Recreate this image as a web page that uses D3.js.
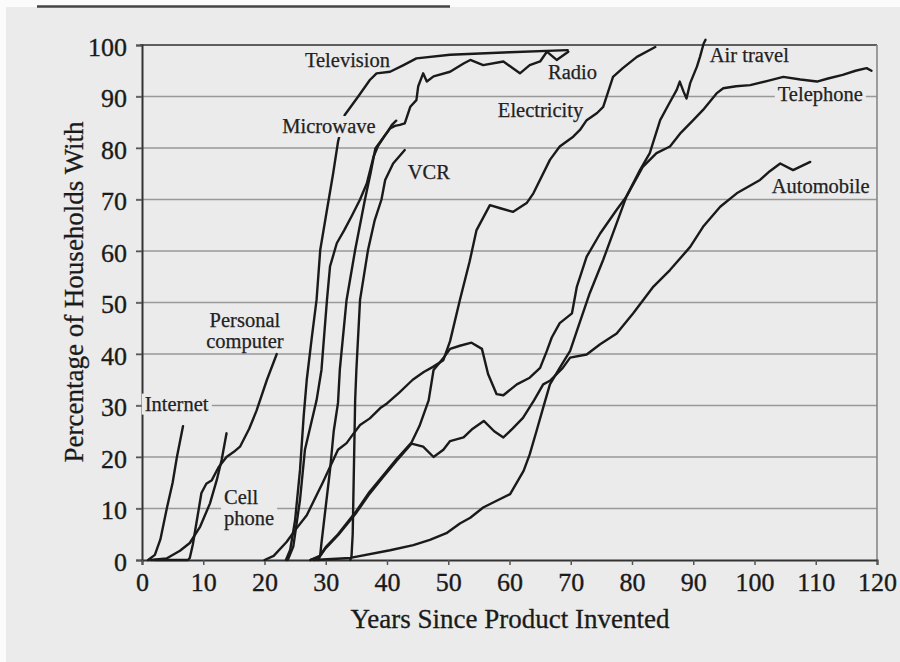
<!DOCTYPE html>
<html><head><meta charset="utf-8">
<script src="https://cdn.jsdelivr.net/npm/d3@7"></script>
<style>body{margin:0;background:#fff}svg{display:block}</style>
</head><body>
<svg id="c" width="900" height="662"></svg>
<script>
// ---------- data ----------
const xTicks = [0,10,20,30,40,50,60,70,80,90,100,110,120];
const yTicks = [0,10,20,30,40,50,60,70,80,90,100];
const xTitle = "Years Since Product Invented";
const yTitle = "Percentage of Households With";

// [years since invented, percent of households]
const internet = [[1,0],[2.1,1],[3,4],[4.1,10.3],[5,15],[5.7,20],[6.7,26]];
const cellPhone = [[1.5,0],[4,0.3],[6.2,1.8],[7.8,3.3],[9.5,6.5],[11.1,11],[12.2,15.5],[13,19.4],[13.8,24.6]];
const personalComputer = [[2,0],[7.5,0],[7.8,0.4],[8.3,3],[9,8],[9.7,13],[10.5,14.8],[11.4,15.5],[12.5,18],[13.8,20],[15,21],[16,22],[17.5,25.5],[18.7,29],[20.4,35],[22,40]];
const television = [[23.5,0],[24.2,2],[25,7.8],[25.8,17.5],[26.4,28],[26.9,35],[27.7,43],[28.5,50.5],[29.1,60.2],[30.2,68],[31.2,75],[32,81.2],[33.1,86.4],[35.3,90],[37.2,93.2],[38.3,94.5],[40.5,94.8],[42.7,96.1],[44.8,97.4],[50.3,98.1],[60,98.6],[69.5,99]];
const radio = [[23.8,0],[24.7,2.6],[25.8,11.7],[26.6,21.4],[28.5,31],[29.3,36.9],[29.7,43],[30.2,50.5],[30.7,57],[31.8,61.5],[33,64],[34.2,66.7],[35.6,70],[36.7,73.1],[37.8,78.3],[38.5,80.3],[39.7,82.5],[40.5,83.8],[41.3,84.3],[42.1,84.5],[42.9,84.8],[43.8,88],[44.8,89.3],[45.1,92],[45.9,94.5],[46.5,92.9],[47.6,93.9],[50.3,94.8],[52.5,96.4],[53.6,97.1],[55.7,96.1],[59,96.8],[61.7,94.5],[63.3,96.1],[65,96.8],[66.1,98.7],[67.7,97.1],[69.6,98.7]];
const microwave = [[28.8,0],[29.1,1],[29.3,3.3],[30.7,17.5],[31.3,25],[32,30.5],[32.3,37],[33.4,50.5],[34.8,60.2],[36.4,70],[37.3,75],[38.1,79.9],[38.9,81.2],[40,83],[40.8,84.5],[41.5,85.3]];
const vcr = [[34,0],[34.2,0.6],[34.4,5],[34.8,31],[35,36.9],[35.6,50.5],[36.9,60.2],[38,66],[39.1,70],[39.7,73.8],[41,77],[42.9,79.6]];
const electricity = [[20,0],[21.5,0.8],[23.6,3.5],[25,5.8],[26.9,8.7],[29.5,15],[32,21.4],[33.4,22.7],[34.2,24],[35.6,26.2],[37.2,27.5],[38.9,29.5],[40,30.4],[42,32.5],[44.2,35],[46,36.5],[47.5,37.5],[49.2,38.8],[50.3,42.5],[51.9,50.5],[53.5,58],[54.6,64],[56.8,68.9],[58.5,68.3],[60.6,67.6],[62.8,69.3],[63.9,71.2],[66.6,77.7],[68.2,80.3],[70.4,82.2],[71.5,83.5],[72.6,85.4],[74.3,86.8],[75.3,88],[76.9,93.8],[78.5,95.5],[80.8,97.7],[83.8,99.6]];
const telephone = [[27.5,0],[29,0.8],[30,2.5],[32,5],[35,9.5],[37,13],[39.3,16.3],[41.5,19.5],[44,22.8],[45.3,26],[46.8,31],[47.6,36.9],[49.2,39.2],[50.3,41],[51.9,41.6],[53.8,42.2],[55.5,41],[56.5,36.1],[57.9,32.2],[59,32],[61.2,34.1],[63.3,35.4],[65,37.3],[66.1,40.6],[66.9,43.2],[68.2,46],[70.2,47.9],[71,53.1],[72.6,58.9],[74.8,63.4],[77.5,68],[79.1,70.6],[81.8,76.4],[84,79],[86.2,80.3],[88,83],[90,85.4],[91.6,87.4],[93.8,90.6],[94.9,91.6],[97,92],[99.3,92.2],[102,93],[104.7,93.8],[107.5,93.3],[110.2,92.9],[112,93.5],[114.4,94.2],[116.5,95],[118.3,95.5],[119.1,95]];
const automobile = [[27.5,0],[29,0.6],[30,2.3],[32,4.8],[35,9.2],[37,12.6],[39.3,16],[41.5,19.2],[44,22.6],[45.9,22],[47.6,20],[49.2,21.4],[50.3,23.1],[52.5,23.8],[54,25.5],[55.8,27],[57.5,25],[59,23.8],[60.5,25.5],[62.2,27.6],[64,31],[65.5,34.1],[66.6,34.8],[68.7,37.3],[69.9,39.3],[72.6,39.9],[74.8,41.9],[77.5,44],[80.2,47.9],[83.5,53.1],[86.2,56.3],[89.5,60.8],[91.6,64.7],[94.4,68.6],[97.1,71.2],[100.9,73.8],[102.5,75.5],[104.2,77],[106.3,75.7],[109.1,77.3]];
const airTravel = [[28,0],[34,0.4],[40.5,1.9],[44.3,2.9],[47,3.9],[49.7,5.2],[51.9,7.1],[53.6,8.2],[55.7,10.2],[57.9,11.5],[60.1,12.8],[62.3,17.3],[63.3,20.5],[64.4,25],[65.5,29.6],[66.6,34.1],[68.2,37.3],[69.9,40.6],[71,44.5],[73.1,51.8],[75.3,58.3],[77.5,65.4],[79.1,70.6],[81.3,75.7],[82.9,79],[84.6,85.4],[86,88.5],[87.3,91.3],[87.8,92.9],[88.4,91],[88.9,89.6],[89.5,92.6],[90.6,95.8],[91.1,97.7],[91.7,100.3],[92,101]];

const seriesList = [internet, cellPhone, personalComputer, television, radio, microwave, vcr, electricity, telephone, automobile, airTravel];

// series labels (one or two lines), anchored in data units (year, percent)
const labels = [
  {lines:["Television"], x:26.6, y:97.1},
  {lines:["Microwave"], x:22.9, y:84.3, mask:true},
  {lines:["VCR"], x:43.4, y:75.3},
  {lines:["Radio"], x:66.3, y:94.7},
  {lines:["Electricity"], x:58.1, y:87.5},
  {lines:["Air travel"], x:92.7, y:98.0},
  {lines:["Telephone"], x:103.8, y:90.6, mask:true},
  {lines:["Automobile"], x:102.8, y:72.7},
  {lines:["Personal","computer"], x:16.8, y:46.7, mid:true},
  {lines:["Internet"], x:0.45, y:30.4, mask:true},
  {lines:["Cell","phone"], x:13.4, y:12.3, mask:true}
];

// ---------- drawing ----------
const W = 900, H = 662;
const svg = d3.select("#c");
const x = d3.scaleLinear().domain([0,120]).range([142,877]);
const y = d3.scaleLinear().domain([0,100]).range([560,45]);
const PAGE = "#ebebeb";
const INK = "#1a1a1a";
const FONT = "'Liberation Serif', 'DejaVu Serif', serif";

svg.append("rect").attr("width",W).attr("height",H).attr("fill","#fbfbfb");
svg.append("rect").attr("x",6).attr("y",7).attr("width",W).attr("height",H).attr("fill",PAGE);
svg.append("line").attr("x1",37).attr("x2",450).attr("y1",6.5).attr("y2",6.5)
  .attr("stroke","#444").attr("stroke-width",2.5);

// gridlines
svg.append("g").selectAll("line").data(yTicks.filter(d => d > 0 && d < 100)).join("line")
  .attr("x1", x(0) - 6).attr("x2", x(120))
  .attr("y1", d => y(d)).attr("y2", d => y(d))
  .attr("stroke","#999").attr("stroke-width",1.7);

// frame: top and right
svg.append("line").attr("x1",x(0)-2).attr("x2",x(120)).attr("y1",y(100)).attr("y2",y(100))
  .attr("stroke","#5e5e5e").attr("stroke-width",2);
svg.append("line").attr("x1",x(120)).attr("x2",x(120)).attr("y1",y(100)).attr("y2",y(0))
  .attr("stroke","#888").attr("stroke-width",1.6);

// axes
const yAxis = d3.axisLeft(y).tickValues(yTicks).tickSize(6).tickPadding(9).tickFormat(d3.format("d"));
const xAxis = d3.axisBottom(x).tickValues(xTicks).tickSize(5).tickPadding(8).tickFormat(d3.format("d"));
const gy = svg.append("g").attr("transform",`translate(${x(0)},0)`).call(yAxis);
const gx = svg.append("g").attr("transform",`translate(0,${y(0)})`).call(xAxis);
[gx, gy].forEach(g => {
  g.select(".domain").attr("stroke","#333").attr("stroke-width",2);
  g.selectAll(".tick line").attr("stroke","#555").attr("stroke-width",1.5);
  g.selectAll(".tick text").attr("font-family",FONT).attr("font-size",26).attr("fill",INK)
    .attr("stroke",INK).attr("stroke-width",0.35);
});
gy.selectAll(".tick text").attr("dy","0.4em");
gx.selectAll(".tick text").attr("dy","0.7em");

// series lines
const line = d3.line().x(d => x(d[0])).y(d => y(d[1]));
svg.append("g").selectAll("path").data(seriesList).join("path")
  .attr("d", line).attr("fill","none").attr("stroke",INK)
  .attr("stroke-width",2.4).attr("stroke-linejoin","round").attr("stroke-linecap","round");

// labels
const lg = svg.append("g");
labels.forEach(l => {
  const grp = lg.append("g");
  const txt = grp.append("text")
    .attr("text-anchor", l.mid ? "middle" : "start")
    .attr("font-family",FONT).attr("font-size",20.5).attr("fill","#222")
    .attr("stroke","#222").attr("stroke-width",0.25);
  l.lines.forEach((s, i) => {
    txt.append("tspan").attr("x", x(l.x)).attr("y", y(l.y))
      .attr("dy", (0.35 + i * 1.05) + "em").text(s);
  });
  if (l.mask) {
    const b = txt.node().getBBox();
    grp.insert("rect","text").attr("x",b.x-3).attr("y",b.y+1).attr("width",b.width+6).attr("height",b.height-1)
      .attr("fill",PAGE);
  }
});

// axis titles
svg.append("text").attr("x",510).attr("y",628).attr("text-anchor","middle")
  .attr("font-family",FONT).attr("font-size",27).attr("fill",INK)
  .attr("stroke",INK).attr("stroke-width",0.3).text(xTitle);
svg.append("text").attr("transform","translate(83,292) rotate(-90)").attr("text-anchor","middle")
  .attr("font-family",FONT).attr("font-size",27).attr("fill",INK)
  .attr("stroke",INK).attr("stroke-width",0.3).text(yTitle);
</script>
</body></html>
